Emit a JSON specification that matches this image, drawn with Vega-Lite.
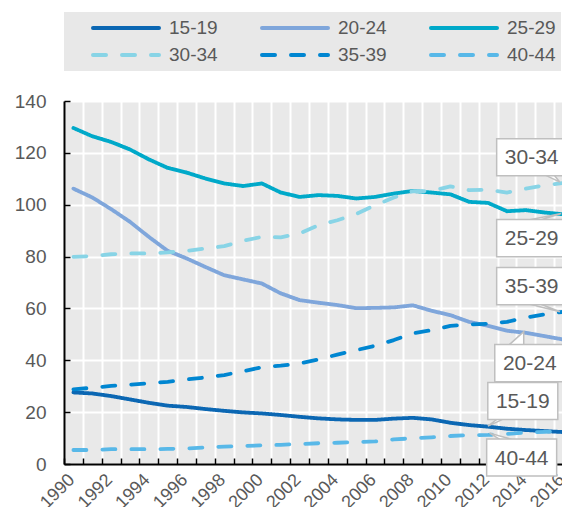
{
 "$schema": "https://vega.github.io/schema/vega-lite/v6.json",
 "width": 498, "height": 363,
 "autosize": {"type": "none"},
 "padding": {"left": 64, "top": 101, "right": 0, "bottom": 43},
 "background": "white",
 "config": {"view": {"fill": "#e9e9e9", "stroke": null}, "font": "Liberation Sans"},
 "layer": [
  {
   "data": {"values": [
    {"year":1990,"age":"15-19","rate":27.6},{"year":1991,"age":"15-19","rate":27.2},{"year":1992,"age":"15-19","rate":26.2},{"year":1993,"age":"15-19","rate":24.9},{"year":1994,"age":"15-19","rate":23.6},{"year":1995,"age":"15-19","rate":22.5},{"year":1996,"age":"15-19","rate":22.0},{"year":1997,"age":"15-19","rate":21.2},{"year":1998,"age":"15-19","rate":20.5},{"year":1999,"age":"15-19","rate":19.9},{"year":2000,"age":"15-19","rate":19.5},{"year":2001,"age":"15-19","rate":18.9},{"year":2002,"age":"15-19","rate":18.2},{"year":2003,"age":"15-19","rate":17.6},{"year":2004,"age":"15-19","rate":17.2},{"year":2005,"age":"15-19","rate":17.0},{"year":2006,"age":"15-19","rate":17.0},{"year":2007,"age":"15-19","rate":17.5},{"year":2008,"age":"15-19","rate":17.8},{"year":2009,"age":"15-19","rate":17.2},{"year":2010,"age":"15-19","rate":15.9},{"year":2011,"age":"15-19","rate":15.0},{"year":2012,"age":"15-19","rate":14.4},{"year":2013,"age":"15-19","rate":13.6},{"year":2014,"age":"15-19","rate":13.1},{"year":2015,"age":"15-19","rate":12.7},{"year":2016,"age":"15-19","rate":12.3},
    {"year":1990,"age":"20-24","rate":106.2},{"year":1991,"age":"20-24","rate":102.8},{"year":1992,"age":"20-24","rate":98.3},{"year":1993,"age":"20-24","rate":93.4},{"year":1994,"age":"20-24","rate":87.6},{"year":1995,"age":"20-24","rate":82.2},{"year":1996,"age":"20-24","rate":79.3},{"year":1997,"age":"20-24","rate":76.0},{"year":1998,"age":"20-24","rate":72.8},{"year":1999,"age":"20-24","rate":71.2},{"year":2000,"age":"20-24","rate":69.6},{"year":2001,"age":"20-24","rate":65.8},{"year":2002,"age":"20-24","rate":63.2},{"year":2003,"age":"20-24","rate":62.2},{"year":2004,"age":"20-24","rate":61.3},{"year":2005,"age":"20-24","rate":60.1},{"year":2006,"age":"20-24","rate":60.2},{"year":2007,"age":"20-24","rate":60.4},{"year":2008,"age":"20-24","rate":61.2},{"year":2009,"age":"20-24","rate":59.1},{"year":2010,"age":"20-24","rate":57.4},{"year":2011,"age":"20-24","rate":54.8},{"year":2012,"age":"20-24","rate":53.3},{"year":2013,"age":"20-24","rate":51.4},{"year":2014,"age":"20-24","rate":50.6},{"year":2015,"age":"20-24","rate":49.3},{"year":2016,"age":"20-24","rate":48.0},
    {"year":1990,"age":"25-29","rate":129.6},{"year":1991,"age":"25-29","rate":126.4},{"year":1992,"age":"25-29","rate":124.2},{"year":1993,"age":"25-29","rate":121.3},{"year":1994,"age":"25-29","rate":117.5},{"year":1995,"age":"25-29","rate":114.2},{"year":1996,"age":"25-29","rate":112.4},{"year":1997,"age":"25-29","rate":110.1},{"year":1998,"age":"25-29","rate":108.2},{"year":1999,"age":"25-29","rate":107.2},{"year":2000,"age":"25-29","rate":108.2},{"year":2001,"age":"25-29","rate":104.7},{"year":2002,"age":"25-29","rate":103.0},{"year":2003,"age":"25-29","rate":103.7},{"year":2004,"age":"25-29","rate":103.4},{"year":2005,"age":"25-29","rate":102.4},{"year":2006,"age":"25-29","rate":103.0},{"year":2007,"age":"25-29","rate":104.3},{"year":2008,"age":"25-29","rate":105.3},{"year":2009,"age":"25-29","rate":104.7},{"year":2010,"age":"25-29","rate":104.0},{"year":2011,"age":"25-29","rate":101.1},{"year":2012,"age":"25-29","rate":100.7},{"year":2013,"age":"25-29","rate":97.5},{"year":2014,"age":"25-29","rate":97.9},{"year":2015,"age":"25-29","rate":97.0},{"year":2016,"age":"25-29","rate":96.3},
    {"year":1990,"age":"30-34","rate":79.9},{"year":1991,"age":"30-34","rate":80.2},{"year":1992,"age":"30-34","rate":80.9},{"year":1993,"age":"30-34","rate":81.2},{"year":1994,"age":"30-34","rate":81.2},{"year":1995,"age":"30-34","rate":81.6},{"year":1996,"age":"30-34","rate":82.2},{"year":1997,"age":"30-34","rate":83.1},{"year":1998,"age":"30-34","rate":84.0},{"year":1999,"age":"30-34","rate":86.1},{"year":2000,"age":"30-34","rate":87.6},{"year":2001,"age":"30-34","rate":87.4},{"year":2002,"age":"30-34","rate":88.9},{"year":2003,"age":"30-34","rate":92.1},{"year":2004,"age":"30-34","rate":94.0},{"year":2005,"age":"30-34","rate":96.4},{"year":2006,"age":"30-34","rate":99.8},{"year":2007,"age":"30-34","rate":102.8},{"year":2008,"age":"30-34","rate":105.2},{"year":2009,"age":"30-34","rate":105.3},{"year":2010,"age":"30-34","rate":107.1},{"year":2011,"age":"30-34","rate":105.6},{"year":2012,"age":"30-34","rate":105.8},{"year":2013,"age":"30-34","rate":104.7},{"year":2014,"age":"30-34","rate":106.2},{"year":2015,"age":"30-34","rate":107.5},{"year":2016,"age":"30-34","rate":108.4},
    {"year":1990,"age":"35-39","rate":28.8},{"year":1991,"age":"35-39","rate":29.4},{"year":1992,"age":"35-39","rate":30.1},{"year":1993,"age":"35-39","rate":30.6},{"year":1994,"age":"35-39","rate":31.1},{"year":1995,"age":"35-39","rate":31.7},{"year":1996,"age":"35-39","rate":32.6},{"year":1997,"age":"35-39","rate":33.4},{"year":1998,"age":"35-39","rate":34.3},{"year":1999,"age":"35-39","rate":35.8},{"year":2000,"age":"35-39","rate":37.3},{"year":2001,"age":"35-39","rate":37.9},{"year":2002,"age":"35-39","rate":38.8},{"year":2003,"age":"35-39","rate":40.3},{"year":2004,"age":"35-39","rate":42.2},{"year":2005,"age":"35-39","rate":43.9},{"year":2006,"age":"35-39","rate":45.6},{"year":2007,"age":"35-39","rate":47.8},{"year":2008,"age":"35-39","rate":50.4},{"year":2009,"age":"35-39","rate":51.6},{"year":2010,"age":"35-39","rate":53.3},{"year":2011,"age":"35-39","rate":53.8},{"year":2012,"age":"35-39","rate":54.1},{"year":2013,"age":"35-39","rate":54.8},{"year":2014,"age":"35-39","rate":56.5},{"year":2015,"age":"35-39","rate":57.7},{"year":2016,"age":"35-39","rate":58.7},
    {"year":1990,"age":"40-44","rate":5.4},{"year":1991,"age":"40-44","rate":5.4},{"year":1992,"age":"40-44","rate":5.7},{"year":1993,"age":"40-44","rate":5.7},{"year":1994,"age":"40-44","rate":5.7},{"year":1995,"age":"40-44","rate":5.8},{"year":1996,"age":"40-44","rate":6.0},{"year":1997,"age":"40-44","rate":6.4},{"year":1998,"age":"40-44","rate":6.7},{"year":1999,"age":"40-44","rate":6.9},{"year":2000,"age":"40-44","rate":7.2},{"year":2001,"age":"40-44","rate":7.4},{"year":2002,"age":"40-44","rate":7.7},{"year":2003,"age":"40-44","rate":8.0},{"year":2004,"age":"40-44","rate":8.2},{"year":2005,"age":"40-44","rate":8.4},{"year":2006,"age":"40-44","rate":8.7},{"year":2007,"age":"40-44","rate":9.5},{"year":2008,"age":"40-44","rate":9.9},{"year":2009,"age":"40-44","rate":10.3},{"year":2010,"age":"40-44","rate":10.8},{"year":2011,"age":"40-44","rate":11.1},{"year":2012,"age":"40-44","rate":11.2},{"year":2013,"age":"40-44","rate":11.6},{"year":2014,"age":"40-44","rate":12.1},{"year":2015,"age":"40-44","rate":12.4},{"year":2016,"age":"40-44","rate":12.8}
   ]},
   "mark": {"type": "line", "strokeWidth": 3.8, "clip": true, "strokeCap": "round", "strokeJoin": "round"},
   "encoding": {
    "x": {"field": "year", "type": "quantitative",
     "scale": {"domain": [1989.5, 2015.92], "nice": false, "zero": false},
     "axis": {"title": null,
      "values": [1989.5,1990.5,1991.5,1992.5,1993.5,1994.5,1995.5,1996.5,1997.5,1998.5,1999.5,2000.5,2001.5,2002.5,2003.5,2004.5,2005.5,2006.5,2007.5,2008.5,2009.5,2010.5,2011.5,2012.5,2013.5,2014.5,2015.5],
      "tickCount": 200,
      "labelExpr": "(datum.value+0.5)%2==0 ? ''+(datum.value+0.5) : ''",
      "labelAngle": -45, "labelAlign": "right", "labelBaseline": "middle",
      "labelOffset": 7.5, "labelPadding": 19,
      "labelFontSize": 18, "labelColor": "#595959", "labelFont": "Liberation Sans",
      "labelOverlap": false, "labelBound": false, "labelFlush": false,
      "tickSize": -6, "tickColor": "black", "tickWidth": 1.5,
      "grid": true, "gridColor": "white", "gridWidth": 2,
      "domainColor": "black", "domainWidth": 2}},
    "y": {"field": "rate", "type": "quantitative",
     "scale": {"domain": [0, 140], "nice": false},
     "axis": {"title": null, "values": [0,20,40,60,80,100,120,140], "tickCount": 100,
      "labelFontSize": 19, "labelColor": "#595959", "labelFont": "Liberation Sans", "labelPadding": 24,
      "tickSize": -6, "tickColor": "black", "tickWidth": 1.5,
      "grid": true, "gridColor": "white", "gridWidth": 2,
      "domainColor": "black", "domainWidth": 2}},
    "color": {"field": "age", "type": "nominal",
     "scale": {"domain": ["15-19","20-24","25-29","30-34","35-39","40-44"],
               "range": ["#0b67b3","#7fa6db","#00a9c9","#88d4e6","#0086d1","#58b8e8"]},
     "legend": {"orient": "none", "legendX": 0, "legendY": -89, "direction": "horizontal", "columns": 3,
      "fillColor": "#e8e8e8", "padding": 5, "columnPadding": 42, "rowPadding": 5,
      "symbolType": "stroke", "symbolSize": 4356, "symbolStrokeWidth": 4, "clipHeight": 22,
      "labelFont": "Liberation Sans", "labelFontSize": 19, "labelColor": "#595959", "labelOffset": 8,
      "title": " ", "titleOrient": "left", "titleFontSize": 1, "titlePadding": 22,
      "encode": {"symbols": {"update": {"strokeCap": {"value": "round"}}}}}},
    "strokeDash": {"field": "age", "type": "nominal",
     "scale": {"domain": ["15-19","20-24","25-29","30-34","35-39","40-44"],
               "range": [[1,0],[1,0],[1,0],[13,16],[13,16],[13,16]]}}
   }
  },
  {
   "data": {"values": [
    {"label":"30-34","o":1,"x":2014.74,"y":112.5},{"label":"30-34","o":2,"x":2015.81,"y":108.7},{"label":"30-34","o":3,"x":2015.38,"y":112.5},
    {"label":"25-29","o":1,"x":2013.75,"y":93.5},{"label":"25-29","o":2,"x":2015.88,"y":96.6},{"label":"25-29","o":3,"x":2014.5,"y":93.5},
    {"label":"35-39","o":1,"x":2013.75,"y":62.5},{"label":"35-39","o":2,"x":2015.81,"y":58.7},{"label":"35-39","o":3,"x":2014.5,"y":62.5},
    {"label":"20-24","o":1,"x":2012.97,"y":45.0},{"label":"20-24","o":2,"x":2013.89,"y":51.0},{"label":"20-24","o":3,"x":2013.89,"y":45.0},
    {"label":"15-19","o":1,"x":2012.78,"y":19.0},{"label":"15-19","o":2,"x":2011.99,"y":14.6},{"label":"15-19","o":3,"x":2013.31,"y":19.0},
    {"label":"40-44","o":1,"x":2012.62,"y":9.5},{"label":"40-44","o":2,"x":2012.08,"y":11.9},{"label":"40-44","o":3,"x":2013.25,"y":9.5}
   ]},
   "mark": {"type": "line", "stroke": "#bfbfbf", "strokeWidth": 1.5, "fill": "white", "strokeJoin": "miter"},
   "encoding": {
    "x": {"field": "x", "type": "quantitative", "scale": {"domain": [1989.5, 2015.92], "nice": false, "zero": false}},
    "y": {"field": "y", "type": "quantitative", "scale": {"domain": [0, 140], "nice": false}},
    "detail": {"field": "label"},
    "order": {"field": "o"}
   }
  },
  {
   "data": {"values": [
    {"label":"30-34","x":2014.31,"y":118.3},
    {"label":"25-29","x":2014.31,"y":87.1},
    {"label":"35-39","x":2014.31,"y":68.6},
    {"label":"20-24","x":2014.21,"y":38.9},
    {"label":"15-19","x":2013.84,"y":24.3},
    {"label":"40-44","x":2013.78,"y":2.5}
   ]},
   "layer": [
    {"mark": {"type": "point", "shape": "M-1,-0.53H1V0.53H-1Z", "size": 4900, "filled": true, "fill": "white", "stroke": "#bfbfbf", "strokeWidth": 1.5, "opacity": 1},
     "encoding": {
      "x": {"field": "x", "type": "quantitative", "scale": {"domain": [1989.5, 2015.92], "nice": false, "zero": false}},
      "y": {"field": "y", "type": "quantitative", "scale": {"domain": [0, 140], "nice": false}}
     }},
    {"mark": {"type": "text", "fontSize": 21, "font": "Liberation Sans", "color": "#595959", "align": "center", "baseline": "middle", "dy": 1},
     "encoding": {
      "x": {"field": "x", "type": "quantitative", "scale": {"domain": [1989.5, 2015.92], "nice": false, "zero": false}},
      "y": {"field": "y", "type": "quantitative", "scale": {"domain": [0, 140], "nice": false}},
      "text": {"field": "label"}
     }}
   ]
  }
 ]
}
